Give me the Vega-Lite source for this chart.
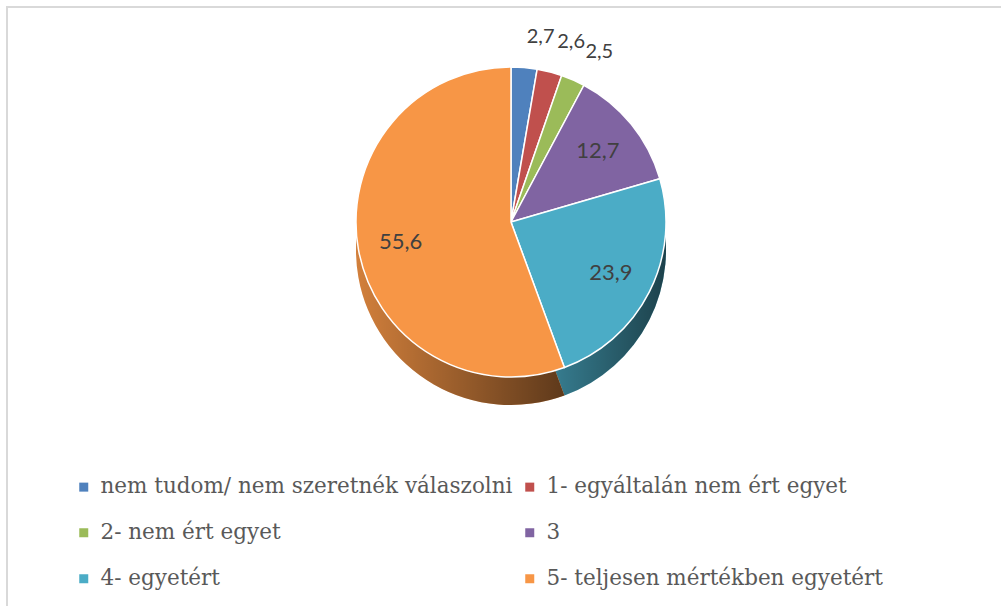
{
  "$schema": "https://vega.github.io/schema/vega-lite/v6.json",
  "width": 1000,
  "height": 605,
  "autosize": {"type": "none"},
  "padding": {"left": 7, "top": 7, "right": -6, "bottom": -6},
  "background": "white",
  "config": {
    "view": {"stroke": null},
    "locale": {"number": {"decimal": ",", "thousands": " ", "grouping": [3], "currency": ["", " Ft"]}}
  },
  "data": {
    "values": [
      {"idx": 1, "cat": "nem tudom/ nem szeretnék válaszolni", "value": 2.7},
      {"idx": 2, "cat": "1- egyáltalán nem ért egyet", "value": 2.6},
      {"idx": 3, "cat": "2- nem ért egyet", "value": 2.5},
      {"idx": 4, "cat": "3", "value": 12.7},
      {"idx": 5, "cat": "4- egyetért", "value": 23.9},
      {"idx": 6, "cat": "5- teljesen mértékben egyetért", "value": 55.6}
    ]
  },
  "encoding": {
    "theta": {"field": "value", "type": "quantitative", "stack": true},
    "order": {"field": "idx", "type": "quantitative"},
    "detail": {"field": "cat"},
    "color": {
      "field": "cat",
      "type": "nominal",
      "scale": {
        "domain": ["nem tudom/ nem szeretnék válaszolni", "2- nem ért egyet", "4- egyetért", "1- egyáltalán nem ért egyet", "3", "5- teljesen mértékben egyetért"],
        "range": ["#4F81BD", "#9BBB59", "#4BACC6", "#C0504D", "#8064A2", "#F79646"]
      },
      "legend": {
        "title": null,
        "orient": "none",
        "legendX": 66,
        "legendY": 469,
        "columns": 2,
        "symbolType": "square",
        "symbolSize": 81,
        "symbolStrokeWidth": 0,
        "labelFont": "DejaVu Serif",
        "labelFontSize": 21.5,
        "labelColor": "#595959",
        "labelOffset": 6,
        "labelLimit": 0,
        "rowPadding": 23,
        "columnPadding": 6
      }
    }
  },
  "layer": [
    {
      "data": {"values": [{"frame": 1}]},
      "mark": {"type": "rect", "fill": null, "stroke": "#d9d9d9", "strokeWidth": 2},
      "encoding": {"theta": null, "order": null, "detail": null, "color": null}
    },
    {
      "mark": {"type": "arc", "outerRadius": 155, "xOffset": 4, "yOffset": -59.5}
    },
    {
      "mark": {"type": "arc", "outerRadius": 155, "xOffset": 4, "yOffset": -59.5},
      "encoding": {
        "color": {"value": {"gradient": "linear", "x1": 0, "y1": 0, "x2": 1, "y2": 0,
          "stops": [{"offset": 0, "color": "rgba(0,0,0,0.15)"}, {"offset": 1, "color": "rgba(0,0,0,0.62)"}]}}
      }
    },
    {
      "mark": {"type": "arc", "outerRadius": 155, "xOffset": 4, "yOffset": -87.5, "stroke": "white", "strokeWidth": 1.5}
    },
    {
      "mark": {"type": "text", "radius": 112, "xOffset": 4, "yOffset": -87.5, "font": "Lato", "fontSize": 22},
      "encoding": {
        "color": {"value": "#404040"},
        "text": {"condition": {"test": "datum.value >= 5", "field": "value", "type": "quantitative", "format": ".1f"}, "value": ""}
      }
    },
    {
      "mark": {"type": "text", "radius": 186, "xOffset": 4, "yOffset": -87.5, "font": "Lato", "fontSize": 20, "align": "left"},
      "encoding": {
        "color": {"value": "#404040"},
        "text": {"condition": {"test": "datum.value < 5", "field": "value", "type": "quantitative", "format": ".1f"}, "value": ""}
      }
    }
  ]
}
